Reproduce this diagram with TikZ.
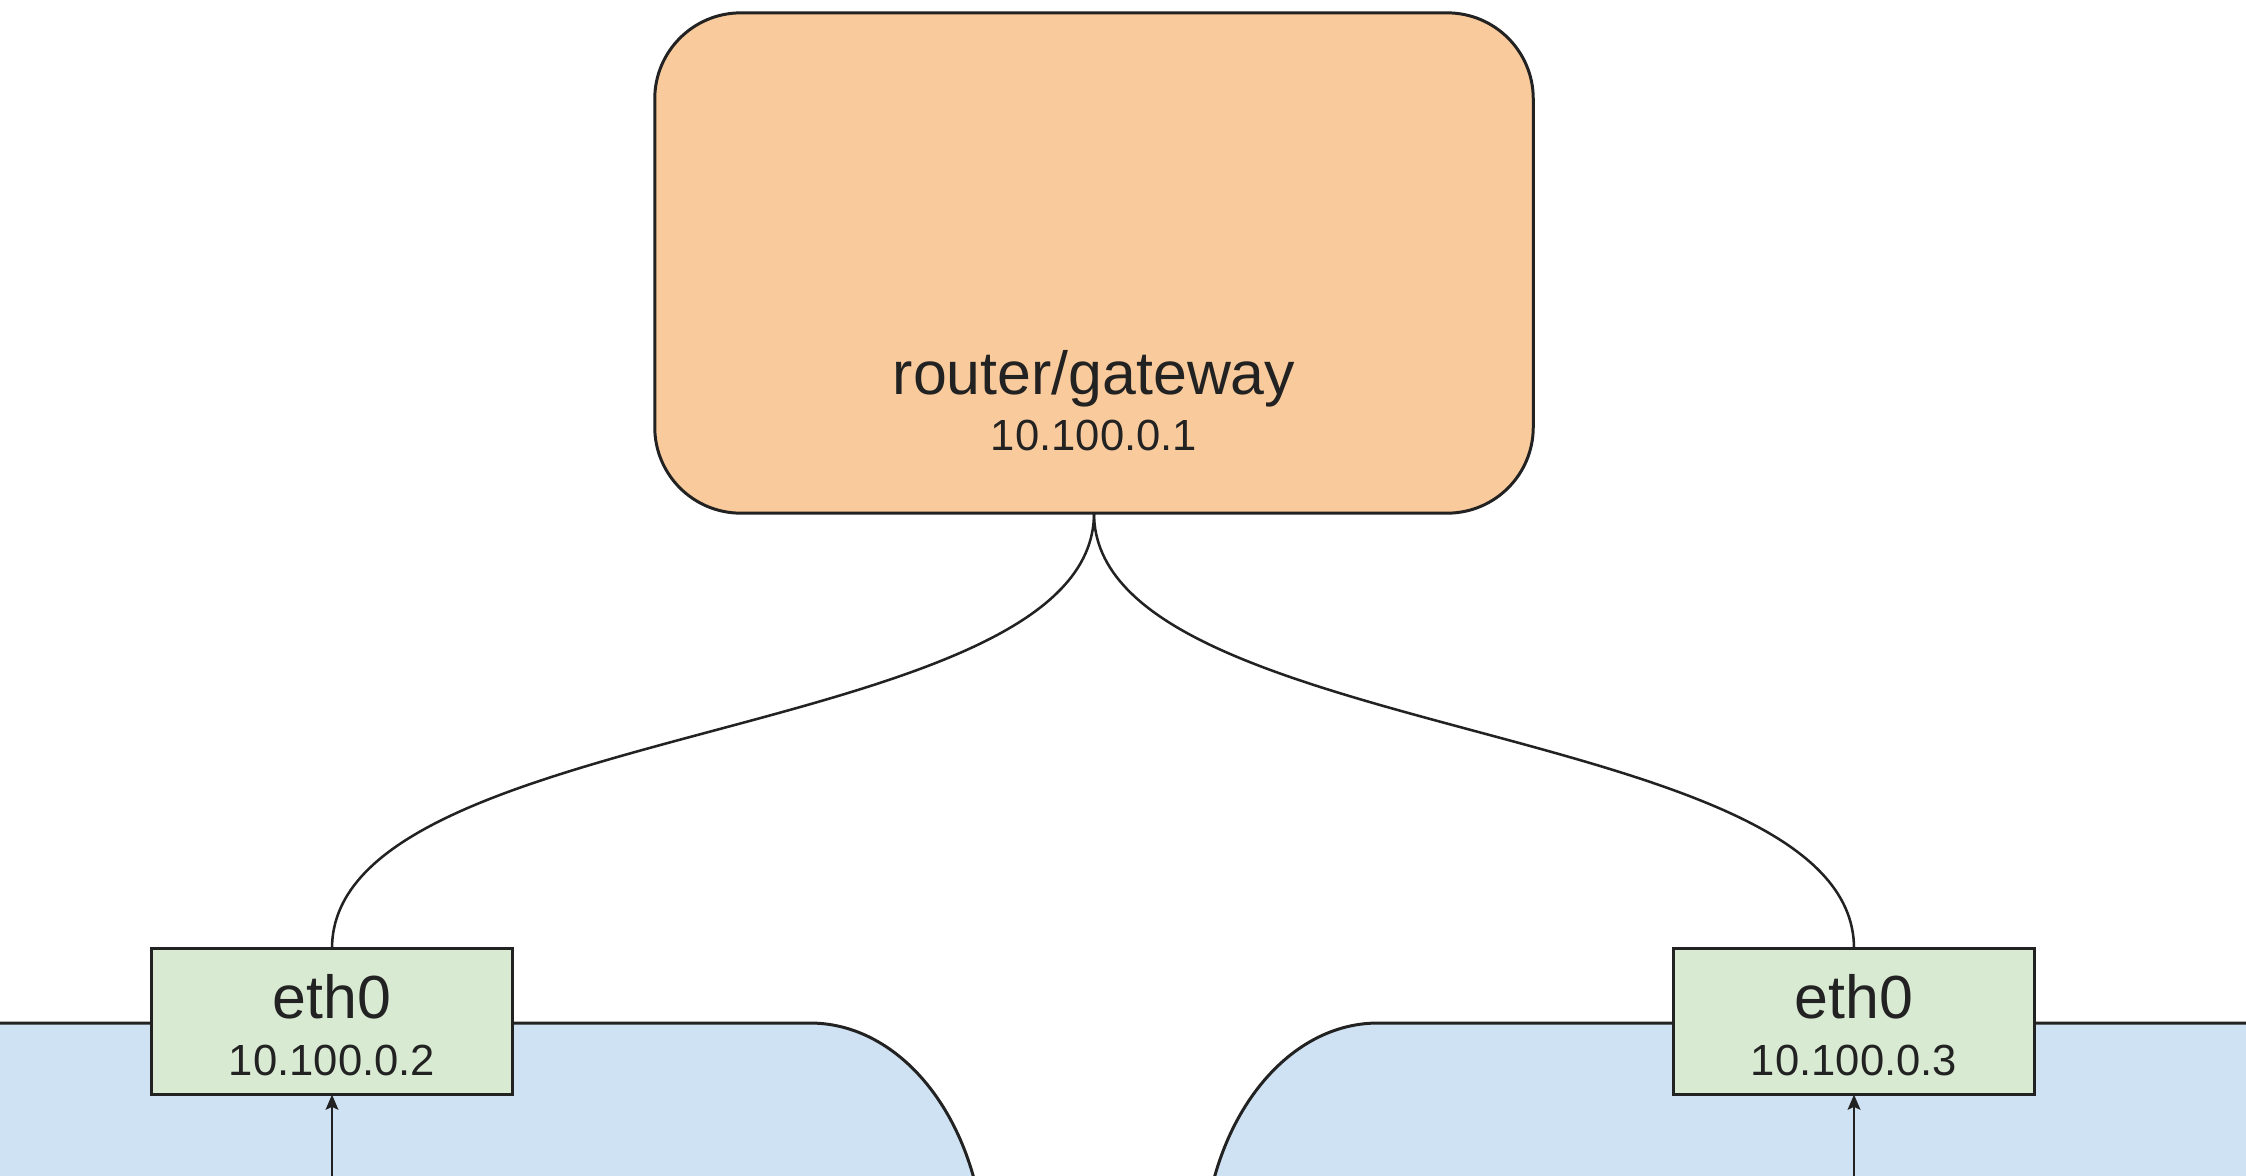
\documentclass[tikz,border=0pt]{standalone}
\usepackage{fontspec}
\setmainfont{Liberation Sans}
\usetikzlibrary{arrows.meta}
\definecolor{routerfill}{HTML}{F9CB9C}
\definecolor{ethfill}{HTML}{D9EAD3}
\definecolor{netfill}{HTML}{CFE2F3}
\definecolor{ink}{HTML}{222222}
\tikzset{
  routerbox/.style={draw=ink, fill=routerfill, line width=0.85pt, rounded corners=0.86cm,
    minimum width=8.78cm, minimum height=5cm, inner sep=0pt, outer sep=0pt},
  ethbox/.style={draw=ink, fill=ethfill, line width=0.85pt,
    minimum width=3.6cm, minimum height=1.46cm, inner sep=0pt, outer sep=0pt},
  netarea/.style={draw=ink, fill=netfill, line width=0.85pt},
  bigtext/.style={anchor=base, inner sep=0pt, font=\fontsize{17.3pt}{20pt}\selectfont, text=ink},
  smalltext/.style={anchor=base, inner sep=0pt, font=\fontsize{12.4pt}{15pt}\selectfont, text=ink},
  link/.style={draw=ink, line width=0.72pt},
  uparrow/.style={draw=ink, line width=0.72pt, -{Stealth[length=4.3pt, width=3.6pt, inset=0.8pt]}}
}
\begin{document}
\begin{tikzpicture}[x=0.01cm, y=-0.01cm]
\useasboundingbox (0,0) rectangle (2246,1175);
\clip (0,0) rectangle (2246,1175);
\fill[white] (0,0) rectangle (2246,1175);
% network areas
\path[netarea] (-20,1023) -- (810,1023) .. controls (907,1023) and (985,1130) .. (985,1263)
  -- (985,1300) -- (-20,1300) -- cycle;
\path[netarea] (2266,1023) -- (1378,1023) .. controls (1281,1023) and (1203,1130) .. (1203,1263)
  -- (1203,1300) -- (2266,1300) -- cycle;
% router
\node[routerbox] (router) at (1094,263) {};
\node[bigtext] (routername) at (1094,394) {router/gateway};
\node[smalltext] (routerip) at (1094,450) {10.100.0.1};
% interfaces
\node[ethbox] (ethL) at (332,1021.5) {};
\node[bigtext] (ethLname) at (332,1018) {eth0};
\node[smalltext] (ethLip) at (332,1075) {10.100.0.2};
\node[ethbox] (ethR) at (1854,1021.5) {};
\node[bigtext] (ethRname) at (1854,1018) {eth0};
\node[smalltext] (ethRip) at (1854,1075) {10.100.0.3};
% links
\draw[link] (router.south) .. controls +(0,231) and +(0,-231) .. (ethL.north);
\draw[link] (router.south) .. controls +(0,231) and +(0,-231) .. (ethR.north);
% incoming arrows
\coordinate (srcL) at (332,1190);
\coordinate (srcR) at (1854,1190);
\draw[uparrow] (srcL) -- (ethL.south);
\draw[uparrow] (srcR) -- (ethR.south);
\end{tikzpicture}
\end{document}
